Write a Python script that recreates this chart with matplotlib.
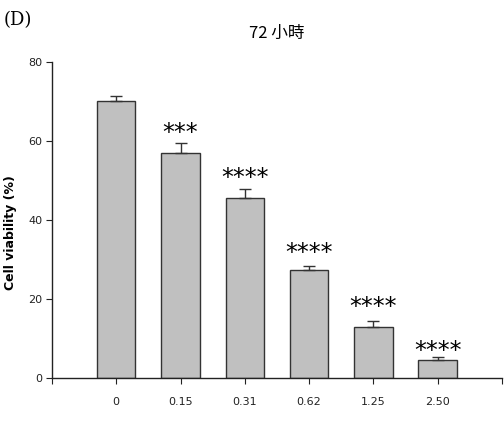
import matplotlib
matplotlib.use("Agg")
import numpy as np
import matplotlib.pyplot as plt


doses = ["0", "0.15", "0.31", "0.62", "1.25", "2.50"]

viability = [70.1, 56.8, 45.5, 27.2, 12.9, 4.5]

err_up = [1.2, 2.7, 2.3, 1.2, 1.4, 0.9]

stars = ["", "***", "****", "****", "****", "****"]

star_y = [0, 62.0, 50.7, 31.7, 18.0, 6.9]


def main():

    fig = plt.figure(
        figsize=(5.04, 4.26),
        dpi=100,
    )

    ax = fig.add_axes([0.103, 0.113, 0.893, 0.742])

    x_arr = np.arange(1, len(doses) + 1)

    ax.bar(
        x_arr,
        viability,
        width=0.6,
        color="#c0c0c0",
        edgecolor="#333333",
        linewidth=1.0,
        zorder=2,
    )

    ax.errorbar(
        x_arr,
        viability,
        yerr=[np.zeros(len(err_up)), err_up],
        fmt="none",
        ecolor="#333333",
        elinewidth=1.0,
        capsize=4,
        capthick=1.0,
        zorder=3,
    )

    for xi, s, sy in zip(x_arr, stars, star_y):
        if s:
            ax.text(
                xi,
                sy,
                s,
                ha="center",
                va="center",
                fontsize=17,
                family="DejaVu Sans",
            )

    ax.set_xlim(0, 7)
    ax.set_ylim(0, 80)

    ax.set_xticks(np.arange(0, 8))
    ax.set_xticklabels([""] + doses + [""])
    ax.set_yticks([0, 20, 40, 60, 80])

    ax.tick_params(
        axis="x",
        direction="out",
        length=4,
        pad=10,
        labelsize=8,
        colors="#222222",
    )
    ax.tick_params(
        axis="y",
        direction="out",
        length=4,
        pad=3,
        labelsize=8,
        colors="#222222",
    )

    for side in ["top", "right"]:
        ax.spines[side].set_visible(False)
    for side in ["left", "bottom"]:
        ax.spines[side].set_color("#222222")
        ax.spines[side].set_linewidth(1.0)

    ax.set_ylabel(
        "Cell viability (%)",
        fontsize=9,
        fontweight="bold",
    )
    ax.yaxis.set_label_coords(-0.078, 0.46)

    fig.text(
        0.55,
        0.922,
        "72 小時",
        ha="center",
        va="center",
        fontsize=12,
        family=["Noto Sans CJK TC", "DejaVu Sans"],
    )

    fig.text(
        0.008,
        0.953,
        "(D)",
        ha="left",
        va="center",
        fontsize=13,
        family="DejaVu Serif",
    )

    fig.savefig("out.png", dpi=100)


if __name__ == "__main__":

    main()
